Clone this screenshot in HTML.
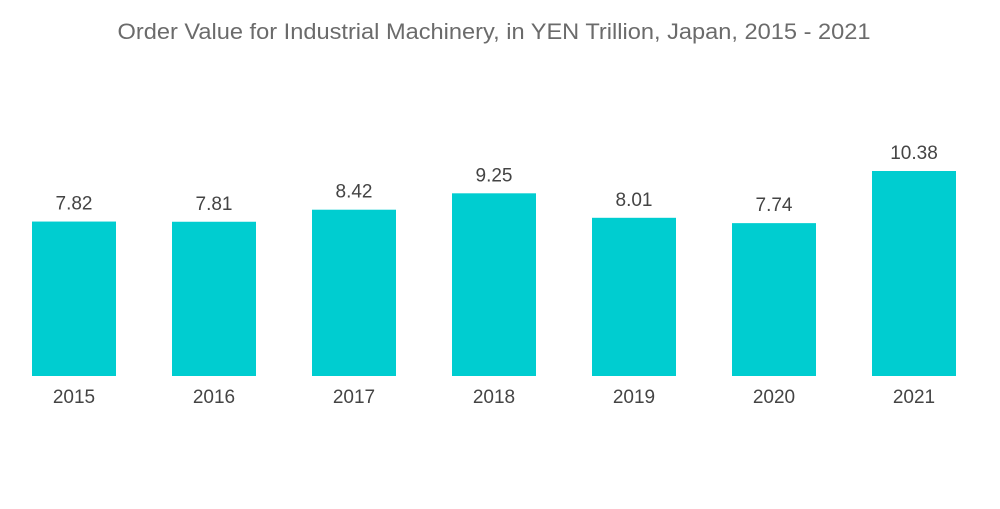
<!DOCTYPE html>
<html><head><meta charset="utf-8"><style>
body{margin:0;background:#fff;font-family:"Liberation Sans",sans-serif}
</style></head><body>
<svg width="1000" height="504">
<text x="494" y="39" text-anchor="middle" font-size="22" fill="#6b6b6b" textLength="753" lengthAdjust="spacingAndGlyphs">Order Value for Industrial Machinery, in YEN Trillion, Japan, 2015 - 2021</text>
<g id="bars"></g>
</svg>
<script>
const categories=["2015","2016","2017","2018","2019","2020","2021"];
const values=[7.82,7.81,8.42,9.25,8.01,7.74,10.38];
const valueLabels=["7.82","7.81","8.42","9.25","8.01","7.74","10.38"];
const base=376,scale=19.75,x0=32,step=140,bw=84;
const y=v=>base-v*scale;
const g=document.getElementById('bars');
const ns='http://www.w3.org/2000/svg';
categories.forEach((c,i)=>{
 const x=x0+i*step;
 const r=document.createElementNS(ns,'rect');
 r.setAttribute('x',x);r.setAttribute('y',y(values[i]));r.setAttribute('width',bw);r.setAttribute('height',base-y(values[i]));r.setAttribute('fill','#00cdd0');
 
 
 g.appendChild(r);
 const t=document.createElementNS(ns,'text');
 t.setAttribute('x',x+bw/2);t.setAttribute('y',y(values[i])-12);t.setAttribute('text-anchor','middle');t.setAttribute('font-size','19');t.setAttribute('fill','#444');
 t.textContent=valueLabels[i];
 
 
 g.appendChild(t);
 const l=document.createElementNS(ns,'text');
 l.setAttribute('x',x+bw/2);l.setAttribute('y',403);l.setAttribute('text-anchor','middle');l.setAttribute('font-size','19');l.setAttribute('fill','#444');
 l.textContent=c;
 
 
 g.appendChild(l);
});
</script>
</body></html>
